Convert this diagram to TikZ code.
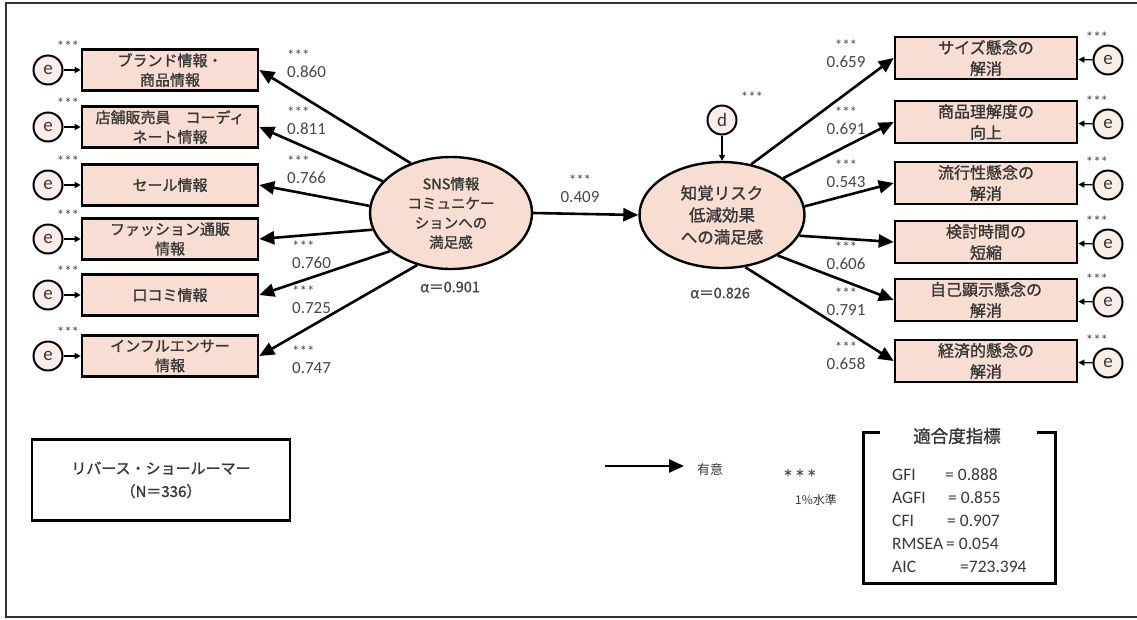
\documentclass[tikz,border=0pt]{standalone}
\usepackage{fontspec}
\setmainfont{Carlito}
\newfontfamily\jpfont{Noto Sans CJK JP}[BoldFont={Noto Sans CJK JP},BoldFeatures={FakeBold=1.3}]
\usetikzlibrary{arrows.meta,shapes.geometric}

\definecolor{boxpink}{RGB}{248,222,210}
\definecolor{errpink}{RGB}{251,238,232}
\definecolor{txtgray}{RGB}{55,55,55}
\definecolor{numgray}{RGB}{70,70,70}
\newcommand\starfont{\fontsize{15}{15}\selectfont}
\tikzset{
  semfig/.style={x=1pt,y=-1pt},
  obsbox/.style={draw,line width=2.6pt,fill=boxpink,inner sep=0pt,align=center,text=txtgray},
  latent/.style={ellipse,draw,line width=2.4pt,fill=boxpink,inner sep=0pt,align=center,text=txtgray},
  errc/.style={circle,draw,line width=2pt,fill=errpink,minimum size=29pt,inner sep=0pt,text=txtgray,font=\fontsize{19}{19}\selectfont},
  load/.style={line width=2.6pt,-{Triangle[length=15pt,width=13pt]}},
  errarr/.style={line width=1.3pt,-{Triangle[length=6pt,width=6pt]}},
  coef/.style={text=numgray,font=\fontsize{17}{17}\selectfont,inner sep=0pt},
  stars/.style={text=numgray,font=\starfont,inner sep=0pt}
}

\begin{document}
\begin{tikzpicture}[semfig]
    \useasboundingbox (0,0) rectangle (1137,619);
    \draw[line width=1.5pt,black!80] (1137,3) -- (6,3) -- (6,617) -- (1137,617);
    % latent factors
    \node[latent,minimum width=162pt,minimum height=112pt,font=\jpfont\bfseries\fontsize{14.5}{19.5}\selectfont] (sns) at (451,213) {SNS情報\\コミュニケー\\ションへの\\満足感};
    \node[latent,minimum width=165pt,minimum height=106pt,font=\jpfont\bfseries\fontsize{16.5}{22}\selectfont] (risk) at (722,215) {知覚リスク\\低減効果\\への満足感};
    \node[errc] (dist) at (722,120) {d};
    \node[stars] (sdist) at (752,97) {***};
    \draw[errarr] (dist) -- (risk);
    \draw[load] (sns.east) -- (risk.west);
    \node[coef,align=center] (cmid) at (580,189) {{\starfont ***}\\0.409};
    \node[coef,font=\jpfont\bfseries\fontsize{14.5}{14.5}\selectfont] (asns) at (450,287) {α＝0.901};
    \node[coef,font=\jpfont\bfseries\fontsize{14.5}{14.5}\selectfont] (arisk) at (720,293) {α＝0.826};
    % left indicators
    \foreach \i/\y/\t in {1/70/{ブランド情報・\\商品情報},2/127/{店舗販売員　コーディ\\ネート情報},3/185/{セール情報},4/239/{ファッション通販\\情報},5/295/{口コミ情報},6/356/{インフルエンサー\\情報}} {
        \node[obsbox,minimum width=176pt,minimum height=41pt,font=\jpfont\bfseries\fontsize{15}{19.5}\selectfont] (in\i) at (170,\y) {\t};
        \node[errc] (ein\i) at (48,\y) {e};
        \node[stars] (sin\i) at (68,\y-24) {***};
        \draw[errarr] (ein\i) -- (in\i);
    }
    \foreach \i/\a in {1/129,2/155,3/175,4/192,5/212,6/237} \draw[load] (sns.\a) -- (in\i.east);
    \foreach \i/\x/\y/\v in {1/287/64/0.860,2/287/121/0.811,3/287/170/0.766,4/292/255/0.760,5/292/300/0.725,6/292/360/0.747}
        \node[coef,anchor=west,align=left] (cin\i) at (\x,\y) {{\starfont ***}\\\v};
    % right indicators
    \foreach \i/\y/\t in {1/58/{サイズ懸念の\\解消},2/122/{商品理解度の\\向上},3/183/{流行性懸念の\\解消},4/242/{検討時間の\\短縮},5/300/{自己顕示懸念の\\解消},6/361/{経済的懸念の\\解消}} {
        \node[obsbox,minimum width=182pt,minimum height=42pt,font=\jpfont\bfseries\fontsize{16}{21}\selectfont] (out\i) at (986,\y) {\t};
        \node[errc] (eout\i) at (1108,\y+2) {e};
        \node[stars] (sout\i) at (1097,\y-21) {***};
        \draw[errarr] (eout\i) -- (out\i);
    }
    \foreach \i/\a in {1/60,2/31,3/6,4/-15,5/-36,6/-66} \draw[load] (risk.\a) -- (out\i.west);
    \foreach \i/\y/\v in {1/54/0.659,2/121/0.691,3/174/0.543,4/256/0.606,5/302/0.791,6/356/0.658}
        \node[coef,align=center] (cout\i) at (846,\y) {{\starfont ***}\\\v};
    % sample box and legend
    \node[draw,line width=2.5pt,minimum width=258pt,minimum height=81pt,align=center,text=txtgray,font=\jpfont\bfseries\fontsize{15}{23}\selectfont] (grp) at (161,480) {リバース・ショールーマー\\（N＝336）};
    \coordinate (lgs) at (605,466);
    \coordinate (lge) at (684,466);
    \draw[load] (lgs) -- (lge);
    \node[text=txtgray,font=\jpfont\fontsize{13}{13}\selectfont] (lgsig) at (710,470) {有意};
    \node[text=txtgray,font=\fontsize{24}{24}\selectfont] (lgstar) at (800,478) {***};
    \node[text=txtgray,font=\jpfont\fontsize{12}{12}\selectfont] (lglev) at (816,500) {1\%水準};
    % fit indices
    \draw[line width=3pt] (880,432) -- (863,432) -- (863,583) -- (1055,583) -- (1055,432) -- (1037,432);
    \node[text=txtgray,font=\jpfont\bfseries\fontsize{17.5}{17.5}\selectfont] (fittl) at (957,436) {適合度指標};
    \foreach \k/\v/\x [count=\r] in {GFI/= 0.888/945,AGFI/= 0.855/948,CFI/= 0.907/947,RMSEA/= 0.054/946,AIC/=723.394/960} {
        \node[anchor=west,text=txtgray,font=\fontsize{17.5}{17.5}\selectfont,inner sep=0pt] (fn\r) at (892,452+23*\r) {\k};
        \node[anchor=west,text=txtgray,font=\fontsize{17.5}{17.5}\selectfont,inner sep=0pt] (fv\r) at (\x,452+23*\r) {\v};
    }
\end{tikzpicture}
\end{document}
